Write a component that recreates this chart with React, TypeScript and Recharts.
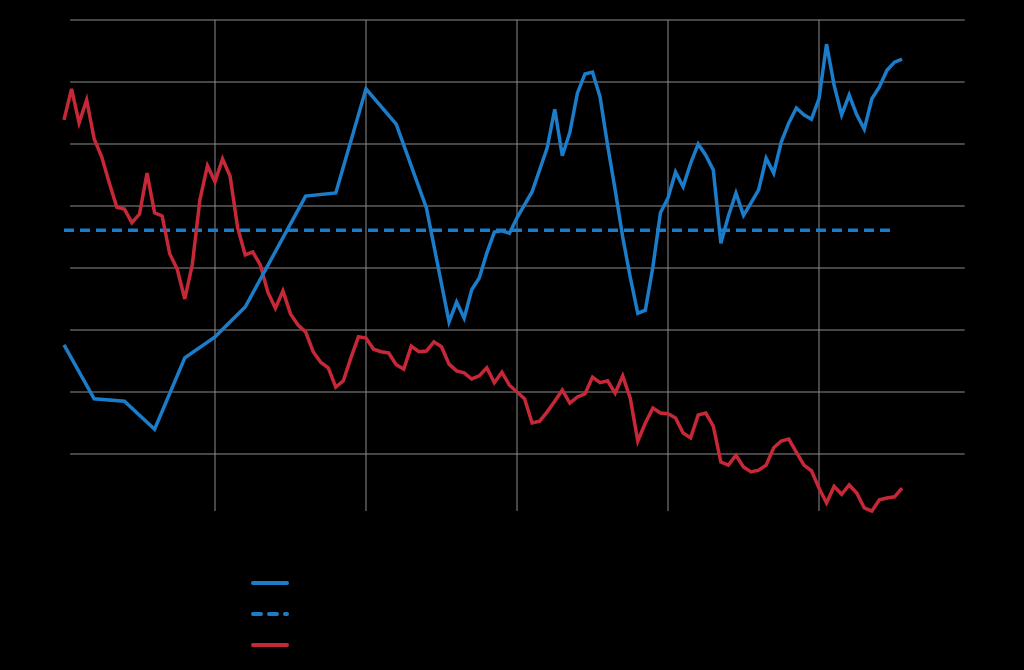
import React from "react";
import {
  LineChart,
  Line,
  XAxis,
  YAxis,
  ReferenceLine,
} from "recharts";

// quarters since start of series
const redValues = [
  63.9, 68.9, 63.4, 67.1, 60.8, 57.9, 53.7, 49.8, 49.5, 47.3, 48.7, 55.3, 48.9, 48.4, 42.3, 39.8,
  35.0, 40.6, 51.0, 56.5, 53.9, 57.6, 54.8, 46.5, 42.1, 42.6, 40.5, 36.1, 33.5, 36.3, 32.6, 30.8,
  29.7, 26.5, 24.8, 23.9, 20.8, 21.8, 25.5, 28.9, 28.7, 26.9, 26.5, 26.3, 24.4, 23.7, 27.4, 26.5,
  26.6, 28.1, 27.3, 24.5, 23.4, 23.1, 22.1, 22.6, 23.9, 21.5, 23.2, 21.1, 20.0, 18.9, 15.0, 15.3,
  16.8, 18.5, 20.3, 18.2, 19.2, 19.7, 22.4, 21.5, 21.8, 19.8, 22.6, 19.0, 12.1, 15.0, 17.4, 16.6,
  16.5, 15.8, 13.4, 12.6, 16.3, 16.6, 14.5, 8.7, 8.2, 9.8, 7.9, 7.1, 7.4, 8.2, 11.0, 12.1,
  12.4, 10.3, 8.2, 7.3, 4.5, 2.1, 4.8, 3.5, 5.0, 3.7, 1.3, 0.8, 2.6, 2.9, 3.1, 4.5,
];

const blueQuarters = [
  0, 4, 8, 12, 16, 20, 24, 32, 36, 40, 44, 48, 51, 52, 53, 54, 55, 56, 57, 58, 59, 60, 62, 64,
  65, 66, 67, 68, 69, 70, 71, 72, 73, 74, 75, 76, 77, 78, 79, 80, 81, 82, 83, 84, 85, 86, 87, 88,
  89, 90, 91, 92, 93, 94, 95, 96, 97, 98, 99, 100, 101, 102, 103, 104, 105, 106, 107, 108, 109,
  110, 111,
];
const blueValues = [
  27.6, 18.9, 18.5, 14.0, 25.5, 28.9, 33.7, 51.6, 52.1, 68.9, 63.2, 49.7, 31.3, 34.5, 31.9, 36.5,
  38.4, 42.4, 45.8, 46.0, 45.6, 48.1, 52.3, 59.4, 65.6, 58.1, 61.9, 68.2, 71.3, 71.6, 67.6, 59.8,
  52.6, 45.0, 38.5, 32.7, 33.2, 40.2, 48.9, 51.3, 55.5, 53.1, 56.9, 60.0, 58.2, 55.8, 44.0, 48.4,
  52.1, 48.5, 50.5, 52.6, 57.7, 55.3, 60.3, 63.4, 65.8, 64.7, 64.0, 67.3, 76.1, 69.5, 64.7, 67.9,
  64.7, 62.4, 67.3, 69.2, 71.9, 73.2, 73.7,
];

const averageQuarters = [0, 110];
const averageValue = 46.1;

const xTicks = [20, 40, 60, 80, 100];
const yTicks = [10, 20, 30, 40, 50, 60, 70, 80];

const legendItems = [
  { label: "Index", color: "#1b7cc9", dashed: false },
  { label: "Long-run average", color: "#1b7cc9", dashed: true },
  { label: "Rate", color: "#c62838", dashed: false },
];

const redData = redValues.map((v, i) => ({ q: i, v }));
const blueData = blueQuarters.map((q, i) => ({ q, v: blueValues[i] }));
const averageData = averageQuarters.map((q) => ({ q, v: averageValue }));

const gridColor = "#8c8c8c";

const App = () => {
  return (
    <div
      style={{
        position: "fixed",
        left: 0,
        top: 0,
        width: 1024,
        height: 670,
        background: "#000",
        fontFamily: "Roboto, sans-serif",
      }}
    >
      <LineChart
        width={1024}
        height={670}
        margin={{ top: 20, right: 54, left: 24, bottom: 124 }}
      >
        <XAxis
          type="number"
          dataKey="q"
          domain={[0, 120]}
          ticks={xTicks}
          axisLine={false}
          tickLine={false}
          height={30}
          tick={{ fill: "#000", fontSize: 13 }}
        />
        <YAxis
          type="number"
          domain={[0, 80]}
          ticks={yTicks}
          axisLine={false}
          tickLine={false}
          width={40}
          tick={{ fill: "#000", fontSize: 13 }}
        />
        {/* grid: no lines on the plot edges, like the original */}
        {yTicks.map((t) => (
          <ReferenceLine
            key={"h" + t}
            segment={[
              { x: 0.8, y: t },
              { x: 119.3, y: t },
            ]}
            stroke={gridColor}
            strokeWidth={1}
          />
        ))}
        {xTicks.map((t) => (
          <ReferenceLine
            key={"v" + t}
            segment={[
              { x: t, y: 0.8 },
              { x: t, y: 80 },
            ]}
            stroke={gridColor}
            strokeWidth={1}
          />
        ))}
        <Line
          data={averageData}
          dataKey="v"
          stroke="#1b7cc9"
          strokeWidth={3.5}
          strokeDasharray="10 6"
          dot={false}
          isAnimationActive={false}
        />
        <Line
          data={redData}
          dataKey="v"
          stroke="#c62838"
          strokeWidth={3.5}
          dot={false}
          isAnimationActive={false}
        />
        <Line
          data={blueData}
          dataKey="v"
          stroke="#1b7cc9"
          strokeWidth={3.5}
          dot={false}
          isAnimationActive={false}
        />
      </LineChart>

      {/* legend under the chart */}
      <div style={{ position: "absolute", left: 250, top: 567 }}>
        {legendItems.map((item) => (
          <div
            key={item.label}
            style={{ display: "flex", alignItems: "center", height: 31 }}
          >
            <svg width={40} height={10}>
              <line
                x1={3}
                y1={5}
                x2={37}
                y2={5}
                stroke={item.color}
                strokeWidth={4}
                strokeLinecap="round"
                strokeDasharray={item.dashed ? "8 8" : undefined}
              />
            </svg>
            <span style={{ marginLeft: 12, fontSize: 14, color: "#000" }}>
              {item.label}
            </span>
          </div>
        ))}
      </div>
    </div>
  );
};

export default App;
